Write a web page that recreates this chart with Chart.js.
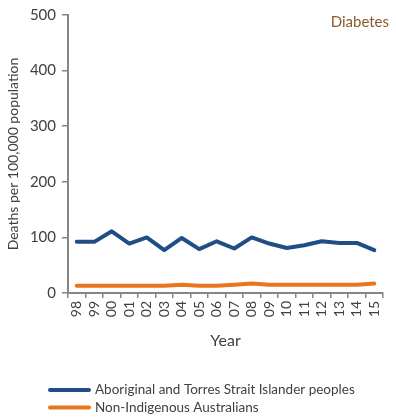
<!DOCTYPE html>
<html>
<head>
<meta charset="utf-8">
<script src="https://cdn.jsdelivr.net/npm/chart.js@4/dist/chart.umd.min.js"></script>
<style>
html,body{margin:0;padding:0;background:#fff;}
#wrap{width:396px;height:418px;position:relative;}
</style>
</head>
<body>
<div id="wrap"><canvas id="c" width="396" height="418"></canvas></div>
<script>
const years = ['98','99','00','01','02','03','04','05','06','07','08','09','10','11','12','13','14','15'];
const indigenous = [92, 92, 111, 89, 100, 77, 99, 79, 93, 80, 100, 89, 81, 86, 93, 90, 90, 77];
const nonIndigenous = [13, 13, 13, 13, 13, 13, 15, 13, 13, 15, 17, 15, 15, 15, 15, 15, 15, 17];
const seriesNames = ['Aboriginal and Torres Strait Islander peoples', 'Non-Indigenous Australians'];
const yTicks = [0, 100, 200, 300, 400, 500];
const panelTitle = 'Diabetes';

const FONT = 'Lato, "Open Sans", sans-serif';
const TXT = '#404040';
const AXIS = '#868686';

const extras = {
  id: 'extras',
  afterDraw(chart) {
    const ctx = chart.ctx;
    const ca = chart.chartArea;
    ctx.save();
    // panel title
    ctx.font = '15px ' + FONT;
    ctx.fillStyle = '#8B5A2B';
    ctx.textAlign = 'right';
    ctx.textBaseline = 'middle';
    ctx.fillText(panelTitle, ca.right + 6, ca.top + 7);
    // legend
    ctx.font = '13.5px ' + FONT;
    ctx.fillStyle = TXT;
    ctx.textAlign = 'left';
    chart.data.datasets.forEach((ds, i) => {
      const y = 390 + i * 17.5;
      ctx.strokeStyle = ds.borderColor;
      ctx.lineWidth = 4;
      ctx.lineCap = 'round';
      ctx.beginPath();
      ctx.moveTo(50, y);
      ctx.lineTo(89, y);
      ctx.stroke();
      ctx.fillText(ds.label, 95, y);
    });
    ctx.restore();
  }
};

new Chart(document.getElementById('c'), {
  type: 'line',
  data: {
    labels: years,
    datasets: [
      { label: seriesNames[0], data: indigenous, borderColor: '#1F4E87', backgroundColor: '#1F4E87',
        borderWidth: 4, pointRadius: 0, tension: 0, borderJoinStyle: 'round', borderCapStyle: 'round' },
      { label: seriesNames[1], data: nonIndigenous, borderColor: '#E8761E', backgroundColor: '#E8761E',
        borderWidth: 4, pointRadius: 0, tension: 0, borderJoinStyle: 'round', borderCapStyle: 'round' }
    ]
  },
  options: {
    responsive: false,
    animation: false,
    layout: { padding: { top: 10, right: 13, bottom: 64, left: 0 } },
    plugins: { legend: { display: false }, tooltip: { enabled: false } },
    scales: {
      x: {
        offset: true,
        grid: { display: true, drawOnChartArea: false, drawTicks: true, tickLength: 5, color: AXIS, lineWidth: 1.5, offset: true },
        border: { display: true, color: AXIS, width: 2 },
        ticks: { minRotation: 90, maxRotation: 90, autoSkip: false, padding: 3, color: TXT, font: { family: FONT, size: 14 } },
        title: { display: true, text: 'Year', color: TXT, font: { family: FONT, size: 16 }, padding: { top: 4, bottom: 4 } },
        afterFit(scale) { scale.height = 61; }
      },
      y: {
        min: 0, max: 500,
        afterBuildTicks(scale) { scale.ticks = yTicks.map(v => ({ value: v })); },
        grid: { display: true, drawOnChartArea: false, drawTicks: true, tickLength: 6, color: AXIS, lineWidth: 1.5 },
        border: { display: true, color: AXIS, width: 2 },
        ticks: { padding: 6, color: TXT, font: { family: FONT, size: 15 } },
        title: { display: true, text: 'Deaths per 100,000 population', color: TXT, font: { family: FONT, size: 14 }, padding: { top: 5, bottom: 4 } },
        afterFit(scale) { scale.width = 68; }
      }
    }
  },
  plugins: [extras]
});
</script>
</body>
</html>
